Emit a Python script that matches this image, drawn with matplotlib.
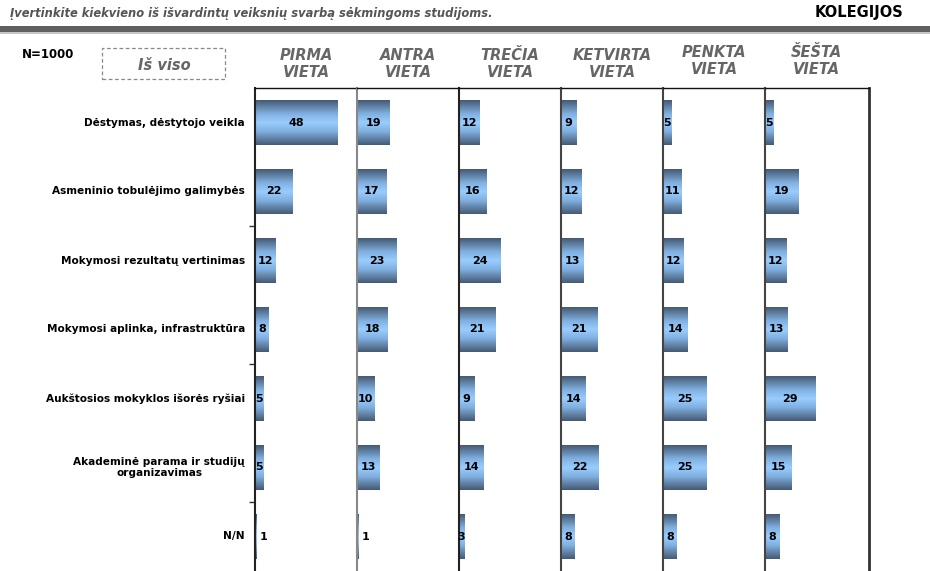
import numpy as np
import matplotlib
matplotlib.use('agg')
import matplotlib.pyplot as plt
from matplotlib.colors import LinearSegmentedColormap
from matplotlib.patches import Rectangle

categories = [
    "Dėstymas, dėstytojo veikla",
    "Asmeninio tobulėjimo galimybės",
    "Mokymosi rezultatų vertinimas",
    "Mokymosi aplinka, infrastruktūra",
    "Aukštosios mokyklos išorės ryšiai",
    "Akademinė parama ir studijų\norganizavimas",
    "N/N",
]
places = ["PIRMA\nVIETA", "ANTRA\nVIETA", "TREČIA\nVIETA",
          "KETVIRTA\nVIETA", "PENKTA\nVIETA", "ŠEŠTA\nVIETA"]
pirma = [48, 22, 12, 8, 5, 5, 1]
antra = [19, 17, 23, 18, 10, 13, 1]
trecia = [12, 16, 24, 21, 9, 14, 3]
ketvirta = [9, 12, 13, 21, 14, 22, 8]
penkta = [5, 11, 12, 14, 25, 25, 8]
sesta = [5, 19, 12, 13, 29, 15, 8]
series = [pirma, antra, trecia, ketvirta, penkta, sesta]

W, H = 930, 571
fig = plt.figure(figsize=(W / 100, H / 100), dpi=100)

def px(x0, y0, w, h):
    # pixel box (top-left origin) -> figure fraction
    return [x0 / W, 1 - (y0 + h) / H, w / W, h / H]

# gradient for bars: dark edges, light centre
cmap = LinearSegmentedColormap.from_list(
    'bar', [(0, '#465b74'), (0.3, '#80b0e0'), (0.5, '#99ccff'),
            (0.7, '#80b0e0'), (1, '#465b74')])
grad = np.linspace(0, 1, 64).reshape(-1, 1)

# header
fig.text(10 / W, 1 - 14 / H,
         "Įvertinkite kiekvieno iš išvardintų veiksnių svarbą sėkmingoms studijoms.",
         fontsize=8.3, fontweight='bold', fontstyle='italic', color='#555555',
         va='center', ha='left')
fig.text(903 / W, 1 - 12 / H, "KOLEGIJOS", fontsize=10.5, fontweight='bold',
         color='black', va='center', ha='right')
band = fig.add_axes(px(0, 26, W, 6))
band.set_facecolor('#606060')
band.set_xticks([]); band.set_yticks([])
for s in band.spines.values():
    s.set_visible(False)
line = fig.add_axes(px(0, 32, W, 2))
line.set_facecolor('#c8c8c8')
line.set_xticks([]); line.set_yticks([])
for s in line.spines.values():
    s.set_visible(False)

fig.text(22 / W, 1 - 55 / H, "N=1000", fontsize=8.5, fontweight='bold',
         va='center', ha='left')
fig.patches.append(Rectangle((102 / W, 1 - 79 / H), 123 / W, 31 / H,
                             transform=fig.transFigure, fill=False,
                             edgecolor='#888888', linestyle=(0, (3, 2)), lw=0.9))
fig.text(164 / W, 1 - 65 / H, "Iš viso", fontsize=10.5, fontweight='bold',
         fontstyle='italic', color='#666666', va='center', ha='center')

n = len(categories)
lefts = [255, 357, 459, 561, 663, 765]
pw = 102
top = 88
spine_cols = ['#222222', '#888888', '#222222', '#444444', '#444444', '#444444']
title_dy = [0, 0, 0, 0, -3, -3]

for k, (vals, title) in enumerate(zip(series, places)):
    ax = fig.add_axes(px(lefts[k], top, pw + (2 if k == 5 else 0), H - top))
    for i, v in enumerate(vals):
        ax.imshow(grad, cmap=cmap, extent=[0, v, i + 0.325, i - 0.325],
                  aspect='auto', interpolation='bilinear', zorder=2)
        if v >= 2:
            ax.text(v / 2, i, str(v), ha='center', va='center', fontsize=8,
                    fontweight='bold', zorder=3)
        else:
            ax.text(v + 2, i, str(v), ha='left', va='center', fontsize=8,
                    fontweight='bold', zorder=3)
    ax.set_xlim(0, 59.3)
    ax.set_ylim(n - 0.5, -0.5)
    ax.set_xticks([])
    ax.spines['bottom'].set_visible(False)
    ax.spines['left'].set_color(spine_cols[k])
    ax.spines['left'].set_linewidth(1.5)
    ax.spines['top'].set_color('#111111')
    ax.spines['top'].set_linewidth(1.0)
    if k == 5:
        ax.spines['right'].set_color('#333333')
        ax.spines['right'].set_linewidth(2)
    else:
        ax.spines['right'].set_visible(False)
    if k == 0:
        ax.set_yticks([1.5, 3.5, 5.5])
        ax.set_yticklabels([])
        ax.tick_params(axis='y', length=4, width=1, color='#333333')
        for i, c in enumerate(categories):
            ax.text(-5.8, i, c, ha='right', va='center', fontsize=7.6,
                    fontweight='bold', multialignment='center')
    else:
        ax.set_yticks([])
    fig.text((lefts[k] + pw / 2) / W, 1 - (64 + title_dy[k]) / H, title,
             fontsize=10.5, fontweight='bold', fontstyle='italic',
             color='#666666', ha='center', va='center', linespacing=1.15)

fig.savefig('out.png', dpi=100)
